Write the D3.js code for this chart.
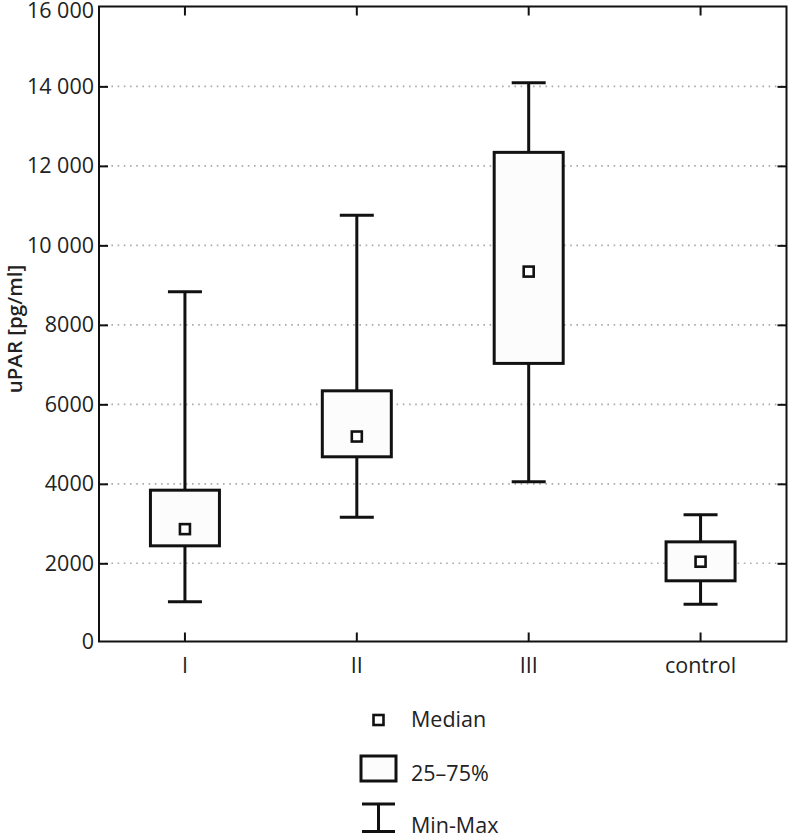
<!DOCTYPE html>
<html><head><meta charset="utf-8">
<script src="https://cdn.jsdelivr.net/npm/d3@7"></script>
<style>body{margin:0;background:#fff}svg{display:block}text{font-family:"Open Sans","Noto Sans",sans-serif;fill:#222}</style>
</head><body><svg id="c" width="789" height="835"></svg>
<script>
const categories = ["I", "II", "III", "control"];
const minValues = [1030, 3160, 4050, 970];
const q1Values = [2440, 4680, 7030, 1560];
const medianValues = [2860, 5190, 9340, 2040];
const q3Values = [3840, 6340, 12340, 2540];
const maxValues = [8830, 10760, 14090, 3220];
const yTicks = [0, 2000, 4000, 6000, 8000, 10000, 12000, 14000, 16000];
const yTickLabels = ["0", "2000", "4000", "6000", "8000", "10 000", "12 000", "14 000", "16 000"];
const yLabel = "uPAR [pg/ml]";
const legendLabels = ["Median", "25–75%", "Min-Max"];

const svg = d3.select("#c");
const L = 99, R = 786.5, T = 6.5, B = 641.5;
const FS = 21.5;
const x = d3.scaleBand().domain(categories).range([L, R]).paddingInner(0).paddingOuter(0);
const y = d3.scaleLinear().domain([0, 16000]).range([642.8, 6.9]);

// gridlines
svg.append("g").selectAll("line").data(yTicks.filter(v => v > 0 && v < 16000)).join("line")
  .attr("x1", L).attr("x2", R).attr("y1", d => y(d)).attr("y2", d => y(d))
  .attr("stroke", "#aaa").attr("stroke-width", 1.6).attr("stroke-dasharray", "1.6 4.6");

// frame
svg.append("rect").attr("x", L).attr("y", T).attr("width", R - L).attr("height", B - T)
  .attr("fill", "none").attr("stroke", "#111").attr("stroke-width", 2);

// left axis with inward ticks
const yAxis = d3.axisLeft(y).tickValues(yTicks).tickSize(-9).tickPadding(14)
  .tickFormat((d, i) => yTickLabels[i]);
const gy = svg.append("g").attr("transform", `translate(${L},0)`).call(yAxis);
gy.select(".domain").remove();
gy.selectAll(".tick line").attr("stroke", "#111").attr("stroke-width", 2);
gy.selectAll(".tick").filter(d => d === 0 || d === 16000).select("line").remove();
gy.selectAll("text").attr("font-size", FS).attr("fill", "#222").attr("dx", 9)
  .attr("font-family", "'Open Sans', sans-serif");
gy.selectAll(".tick").filter(d => d === 0).select("text").attr("dy", "0.25em");
gy.selectAll(".tick").filter(d => d === 16000).select("text").attr("dy", "0.47em");

// right inward ticks
const gr = svg.append("g").attr("transform", `translate(${R},0)`)
  .call(d3.axisRight(y).tickValues(yTicks.filter(v => v > 0 && v < 16000)).tickSize(-9).tickFormat(""));
gr.select(".domain").remove();
gr.selectAll(".tick line").attr("stroke", "#111").attr("stroke-width", 2);

// bottom axis
const xAxis = d3.axisBottom(x).tickSize(-9).tickPadding(16);
const gx = svg.append("g").attr("transform", `translate(0,${B})`).call(xAxis);
gx.select(".domain").remove();
gx.selectAll(".tick line").attr("stroke", "#111").attr("stroke-width", 2);
gx.selectAll("text").attr("font-size", FS).attr("fill", "#222").attr("font-family", "'Open Sans', sans-serif");

// top ticks
const gt = svg.append("g").attr("transform", `translate(0,${T})`)
  .call(d3.axisTop(x).tickSize(-9).tickFormat(""));
gt.select(".domain").remove();
gt.selectAll(".tick line").attr("stroke", "#111").attr("stroke-width", 2);

// y label
svg.append("text").attr("transform", `translate(21.5,329) rotate(-90)`)
  .attr("text-anchor", "middle").attr("font-size", 20.5).attr("font-weight", 600)
  .text(yLabel);

// boxes
const data = categories.map((c, i) => ({c, min: minValues[i], q1: q1Values[i], med: medianValues[i], q3: q3Values[i], max: maxValues[i]}));
const bw = 69, cw = 34, ms = 10;
const g = svg.append("g");
const cx = d => x(d.c) + x.bandwidth() / 2;
g.selectAll(".wh").data(data).join("line").attr("x1", cx).attr("x2", cx)
  .attr("y1", d => y(d.max)).attr("y2", d => y(d.min)).attr("stroke", "#111").attr("stroke-width", 3);
g.selectAll(".capT").data(data).join("line").attr("x1", d => cx(d) - cw / 2).attr("x2", d => cx(d) + cw / 2)
  .attr("y1", d => y(d.max)).attr("y2", d => y(d.max)).attr("stroke", "#111").attr("stroke-width", 3);
g.selectAll(".capB").data(data).join("line").attr("x1", d => cx(d) - cw / 2).attr("x2", d => cx(d) + cw / 2)
  .attr("y1", d => y(d.min)).attr("y2", d => y(d.min)).attr("stroke", "#111").attr("stroke-width", 3);
g.selectAll(".box").data(data).join("rect").attr("x", d => cx(d) - bw / 2).attr("width", bw)
  .attr("y", d => y(d.q3)).attr("height", d => y(d.q1) - y(d.q3))
  .attr("fill", "#fcfcfc").attr("stroke", "#111").attr("stroke-width", 3);
g.selectAll(".med").data(data).join("rect").attr("x", d => cx(d) - ms / 2).attr("width", ms)
  .attr("y", d => y(d.med) - ms / 2).attr("height", ms)
  .attr("fill", "#fff").attr("stroke", "#111").attr("stroke-width", 2.6);

// legend
const lg = svg.append("g");
lg.append("rect").attr("x", 373.5).attr("y", 715).attr("width", ms).attr("height", ms)
  .attr("fill", "#fff").attr("stroke", "#111").attr("stroke-width", 2.6);
lg.append("rect").attr("x", 361).attr("y", 756).attr("width", 35).attr("height", 25)
  .attr("fill", "#fcfcfc").attr("stroke", "#111").attr("stroke-width", 3);
lg.append("line").attr("x1", 362).attr("x2", 395).attr("y1", 804).attr("y2", 804).attr("stroke", "#111").attr("stroke-width", 3);
lg.append("line").attr("x1", 362).attr("x2", 395).attr("y1", 831.5).attr("y2", 831.5).attr("stroke", "#111").attr("stroke-width", 3);
lg.append("line").attr("x1", 378.5).attr("x2", 378.5).attr("y1", 804).attr("y2", 831.5).attr("stroke", "#111").attr("stroke-width", 3);
const ly = [727, 781, 833];
lg.selectAll(".lt").data(legendLabels).join("text").attr("x", 411).attr("y", (d, i) => ly[i])
  .attr("font-size", FS).text(d => d);
</script></body></html>
